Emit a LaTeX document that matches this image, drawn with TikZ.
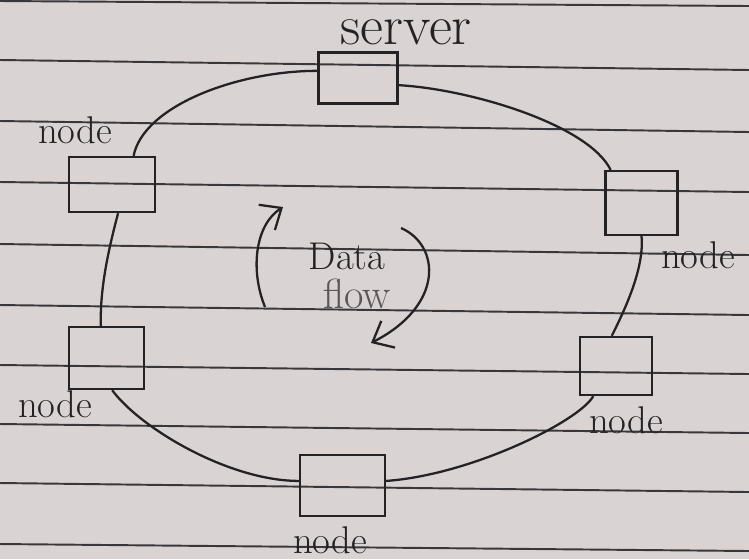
\documentclass[tikz,border=0pt]{standalone}
\usepackage{fontspec}
\usetikzlibrary{arrows.meta}
\definecolor{paper}{RGB}{217,211,212}
\definecolor{rulec}{RGB}{58,55,58}
\definecolor{ink}{RGB}{36,34,36}
\definecolor{faint}{RGB}{90,86,88}
\begin{document}
\begin{tikzpicture}[x=0.02cm,y=-0.02cm,
  box/.style={draw=ink,line width=1.3pt,inner sep=0pt},
  lbl/.style={text=ink,inner sep=0pt,font=\fontsize{22}{26}\selectfont},
  ring/.style={draw=ink,line width=1.3pt},
  ruling/.style={draw=rulec,line width=1.1pt},
  flowarrow/.style={draw=ink,line width=1.3pt,-{Straight Barb[length=0.35cm,width=0.6cm]}}]
\fill[paper] (0,0) rectangle (749,559);
\useasboundingbox (0,0) rectangle (749,559);
% ruled paper
\foreach \yl/\yr in {1/6,60/70,121/132,182/192,244/255,305/315,365/374,424/433,483/492,544/551}
  \draw[ruling] (0,\yl) -- (749,\yr);
% boxes
\node[box,minimum width=1.58cm,minimum height=1.02cm] (srv) at (358,78) {};
\node[box,minimum width=1.72cm,minimum height=1.10cm] (nTL) at (112,184.5) {};
\node[box,minimum width=1.44cm,minimum height=1.28cm] (nTR) at (641.5,203) {};
\node[box,minimum width=1.50cm,minimum height=1.24cm] (nBL) at (106.5,358) {};
\node[box,minimum width=1.44cm,minimum height=1.16cm] (nBR) at (616,366) {};
\node[box,minimum width=1.70cm,minimum height=1.22cm] (nB) at (342.5,485.5) {};
% labels
\node[lbl,font=\fontsize{32}{38}\selectfont] (lsrv) at (406,32) {server};
\node[lbl] (lTL) at (75,130) {node};
\node[lbl] (lTR) at (698,255) {node};
\node[lbl] (lBL) at (55,404) {node};
\node[lbl] (lBR) at (626,420) {node};
\node[lbl] (lB) at (330,540) {node};
% ring connectors
\draw[ring] (srv.170) .. controls +(-80,0) and +(10,-50) .. (nTL.53);
\draw[ring] (srv.-10) .. controls +(72,4) and +(-22,-45) .. (nTR.133);
\draw[ring] (nTL.-78) .. controls +(-10,38) and +(-1,-37) .. (nBL.100);
\draw[ring] (nTR.south) .. controls +(3,32) and +(13,-26) .. (nBR.98);
\draw[ring] (nBL.-80) .. controls +(28,38) and +(-70,0) .. (nB.174);
\draw[ring] (nBR.233) .. controls +(-14,25) and +(85,-6) .. (nB.6);
% data flow
\node[lbl] (tdata) at (347,256) {Data};
\node[lbl,text=faint,font=\fontsize{24}{28}\selectfont] (tflow) at (357,294) {flow};
\coordinate (a1s) at (265,307);
\coordinate (a1e) at (283,207);
\coordinate (a2s) at (401,228);
\coordinate (a2e) at (371,343);
\draw[flowarrow] (a1s) .. controls (250,270) and (255,225) .. (a1e);
\draw[flowarrow] (a2s) .. controls (440,245) and (445,305) .. (a2e);
\end{tikzpicture}
\end{document}
